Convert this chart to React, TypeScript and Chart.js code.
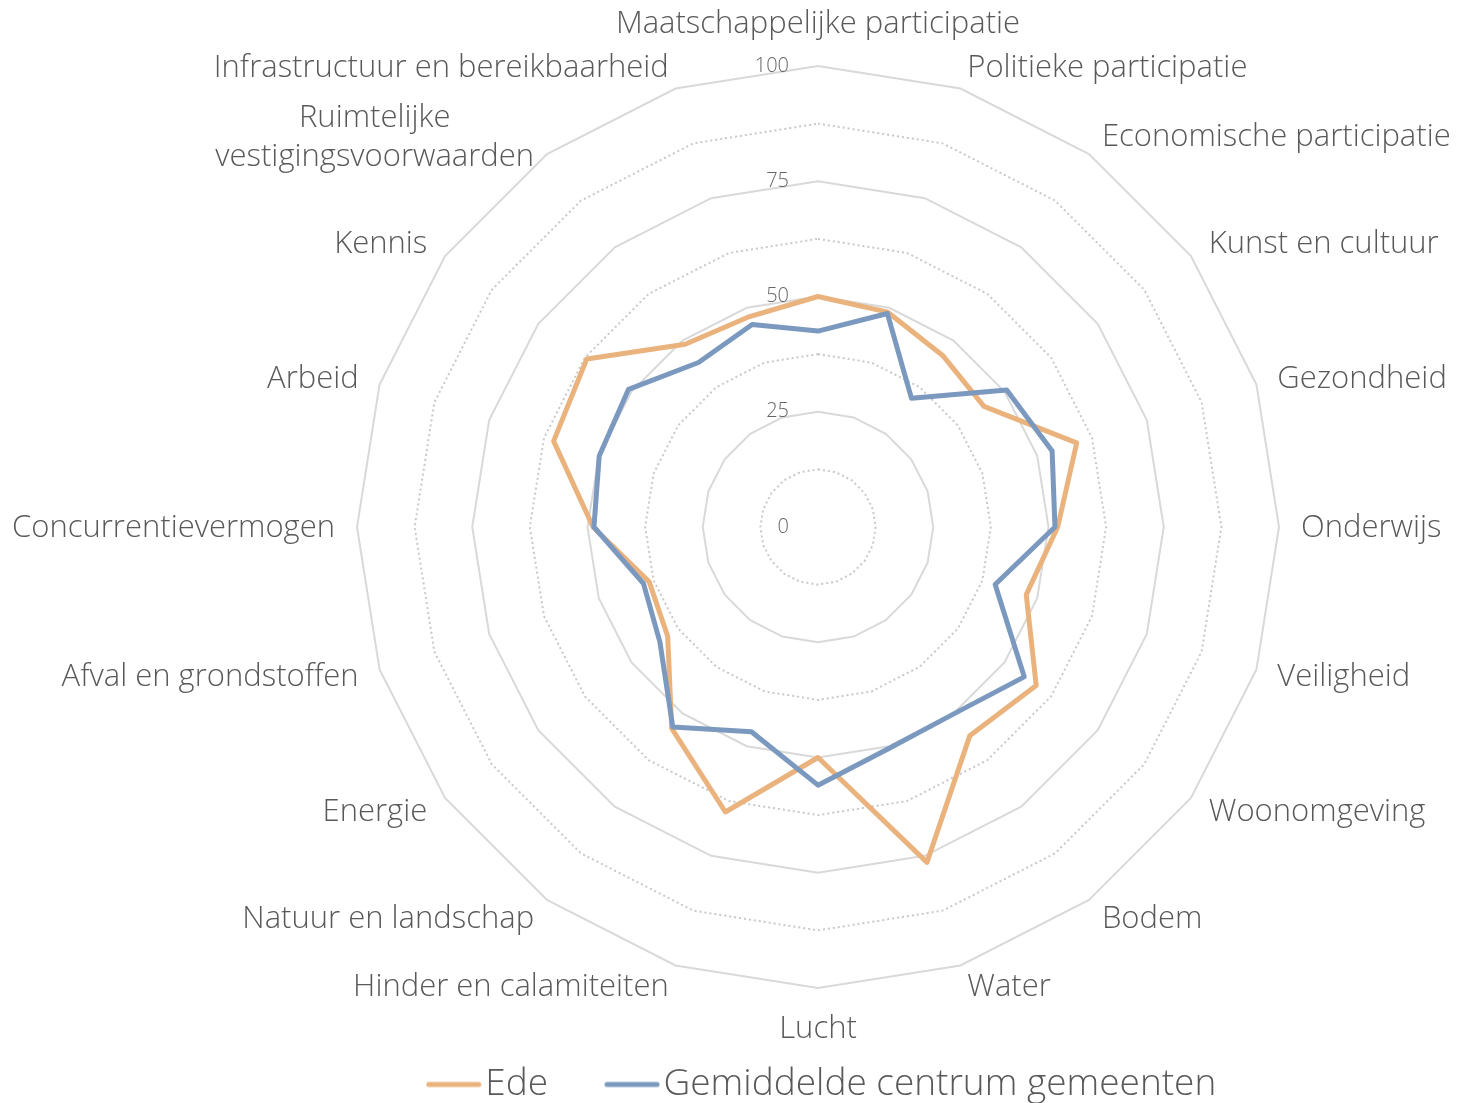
import React, { useEffect, useRef } from 'react';
import { Chart, registerables } from 'chart.js';

Chart.register(...registerables);

const categories: (string | string[])[] = [
  'Maatschappelijke participatie',
  'Politieke participatie',
  'Economische participatie',
  'Kunst en cultuur',
  'Gezondheid',
  'Onderwijs',
  'Veiligheid',
  'Woonomgeving',
  'Bodem',
  'Water',
  'Lucht',
  'Hinder en calamiteiten',
  'Natuur en landschap',
  'Energie',
  'Afval en grondstoffen',
  'Concurrentievermogen',
  'Arbeid',
  'Kennis',
  ['Ruimtelijke', 'vestigingsvoorwaarden'],
  'Infrastructuur en bereikbaarheid',
];

const edeValues = [50, 49, 46, 44.5, 59, 52, 47.5, 58.5, 56, 76.5, 50, 65, 54, 40.3, 38.5, 48.8, 60.3, 62, 49, 48];
const gemValues = [42.5, 48.7, 34.5, 50.6, 53.4, 51.4, 40.4, 55.3, 50.1, 50.4, 56, 46.7, 53.6, 42.4, 39.8, 48.6, 49.9, 50.8, 44.1, 46.2];

const seriesNames = ['Ede', 'Gemiddelde centrum gemeenten'];
const seriesColors = ['#EAB37D', '#7B99BF'];
const tickValues = [0, 25, 50, 75, 100];

const FONT = '"Open Sans", "DejaVu Sans", sans-serif';
const TEXT = '#595959';

const W = 1463;
const H = 1113;

function lineSwatch(color: string) {
  const c = document.createElement('canvas');
  c.width = 56;
  c.height = 8;
  const g = c.getContext('2d')!;
  g.strokeStyle = color;
  g.lineWidth = 5;
  g.lineCap = 'round';
  g.beginPath();
  g.moveTo(3, 4);
  g.lineTo(53, 4);
  g.stroke();
  return c;
}

const labelPlugin = {
  id: 'radarLabels',
  afterDraw(chart: any) {
    const scale = chart.scales.r;
    const ctx = chart.ctx as CanvasRenderingContext2D;
    ctx.save();
    ctx.font = `300 31px ${FONT}`;
    ctx.fillStyle = TEXT;
    ctx.textBaseline = 'middle';
    const lh = 39;
    const n = categories.length;
    categories.forEach((lab, i) => {
      const lines = Array.isArray(lab) ? lab : [lab];
      const p = scale.getPointPosition(i, scale.drawingArea + 22);
      const deg = (i * 360) / n;
      let cy: number;
      let align: string;
      if (deg === 0) {
        cy = p.y - 20;
        align = 'center';
      } else if (deg === 180) {
        cy = p.y + 19;
        align = 'center';
      } else {
        cy = p.y + 1;
        align = deg < 180 ? 'left' : 'right';
      }
      const maxW = Math.max(...lines.map((l) => ctx.measureText(l).width));
      let cx = p.x;
      if (align === 'left') cx = p.x + maxW / 2;
      if (align === 'right') cx = p.x - maxW / 2;
      ctx.textAlign = 'center';
      lines.forEach((l, k) => {
        ctx.fillText(l, cx, cy + (k - (lines.length - 1) / 2) * lh);
      });
    });
    ctx.font = `300 20px ${FONT}`;
    ctx.fillStyle = '#666666';
    ctx.textAlign = 'right';
    tickValues.forEach((v) => {
      const r = scale.getDistanceFromCenterForValue(v);
      ctx.fillText(String(v), scale.xCenter - 29, scale.yCenter - r);
    });
    ctx.restore();
  },
};

export default function App() {
  const ref = useRef<HTMLCanvasElement | null>(null);

  useEffect(() => {
    if (!ref.current) return;
    const swatches = seriesColors.map(lineSwatch);
    const chart = new Chart(ref.current, {
      type: 'radar',
      data: {
        labels: categories,
        datasets: [
          {
            label: seriesNames[0],
            data: edeValues,
            borderColor: seriesColors[0],
            backgroundColor: 'transparent',
            fill: false,
            borderWidth: 5,
            pointRadius: 0,
            pointHoverRadius: 0,
            borderJoinStyle: 'round',
            order: 1,
          },
          {
            label: seriesNames[1],
            data: gemValues,
            borderColor: seriesColors[1],
            backgroundColor: 'transparent',
            fill: false,
            borderWidth: 5,
            pointRadius: 0,
            pointHoverRadius: 0,
            borderJoinStyle: 'round',
            order: 0,
          },
        ],
      },
      options: {
        responsive: false,
        animation: false,
        layout: { padding: { left: 194, right: 0, top: 0, bottom: 0 } },
        scales: {
          r: {
            min: 0,
            max: 100,
            ticks: { display: false, stepSize: 12.5 },
            angleLines: { display: false },
            pointLabels: { display: false },
            grid: {
              color: (c: any) => (c.tick && c.tick.value % 25 === 0 ? '#d9d9d9' : '#c8c8c8'),
              lineWidth: 2,
            },
            border: {
              dash: (c: any) => (c.tick && c.tick.value % 25 === 0 ? [] : [2, 3]),
            },
            afterFit: (s: any) => {
              s.xCenter = 818;
              s.yCenter = 527;
              s.drawingArea = 461;
            },
          } as any,
        },
        plugins: {
          tooltip: { enabled: false },
          legend: {
            position: 'bottom',
            labels: {
              usePointStyle: true,
              pointStyleWidth: 26,
              padding: 71,
              color: TEXT,
              font: { family: FONT, size: 37, weight: 300 as any },
              generateLabels: (ch: any) => {
                const items = Chart.defaults.plugins.legend.labels.generateLabels(ch);
                items.sort((a: any, b: any) => a.datasetIndex - b.datasetIndex);
                return items.map((it: any) => ({ ...it, pointStyle: swatches[it.datasetIndex] }));
              },
            },
          },
        },
      },
      plugins: [labelPlugin],
    } as any);
    return () => chart.destroy();
  }, []);

  return (
    <div style={{ position: 'fixed', left: 0, top: 0, width: W, height: H, background: '#ffffff', overflow: 'hidden' }}>
      <canvas ref={ref} width={W} height={H} style={{ display: 'block' }} />
    </div>
  );
}
